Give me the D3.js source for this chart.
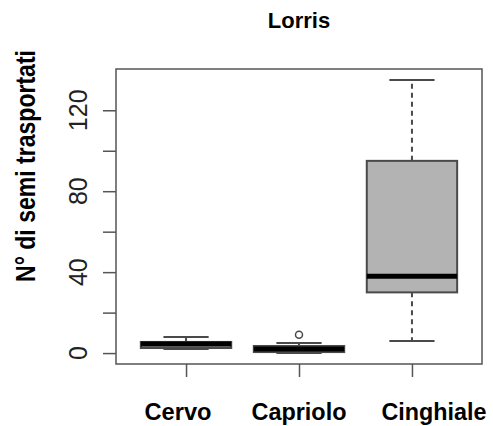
<!DOCTYPE html>
<html>
<head>
<meta charset="utf-8">
<script src="https://cdn.jsdelivr.net/npm/d3@7"></script>
<style>
  html, body { margin: 0; padding: 0; background: #fff; }
  svg { display: block; }
  text { font-family: "Liberation Sans", Arial, sans-serif; }
</style>
</head>
<body>
<svg id="chart" width="493" height="426"></svg>
<script>
// ---- data ----
const categories = ["Cervo", "Capriolo", "Cinghiale"];
const mins    = [2, 0, 6];
const q1s     = [2.5, 0.5, 30];
const medians = [4.5, 2, 38];
const q3s     = [5.5, 3.5, 95];
const maxs    = [8, 5, 135];
const outliers = [[], [9], []];
const yTicks = [0, 20, 40, 60, 80, 100, 120];
const yTickLabels = ["0", "", "40", "", "80", "", "120"];
const title = "Lorris";
const yLabel = "N° di semi trasportati";

// ---- layout ----
const svg = d3.select("#chart");
const plot = { left: 116, right: 482, top: 69, bottom: 364 };
const x = d3.scaleLinear().domain([0.38, 3.62]).range([plot.left, plot.right]);
const y = d3.scaleLinear().domain([-5.4, 140.4]).range([plot.bottom, plot.top]);
const boxW = x(0.8) - x(0);
const capW = boxW / 2;
const lineCol = "#4a4a4a";
const axisCol = "#555";

const boxes = categories.map((c, i) => ({
  cat: c, pos: i + 1, min: mins[i], q1: q1s[i], med: medians[i], q3: q3s[i], max: maxs[i], out: outliers[i]
}));

const g = svg.append("g");

boxes.forEach(b => {
  g.append("line").attr("x1", x(b.pos)).attr("x2", x(b.pos))
    .attr("y1", y(b.q3)).attr("y2", y(b.max))
    .attr("stroke", lineCol).attr("stroke-width", 2).attr("stroke-dasharray", "5,4");
  g.append("line").attr("x1", x(b.pos)).attr("x2", x(b.pos))
    .attr("y1", y(b.q1)).attr("y2", y(b.min))
    .attr("stroke", lineCol).attr("stroke-width", 2).attr("stroke-dasharray", "5,4");
  [b.max, b.min].forEach(v => {
    g.append("line").attr("x1", x(b.pos) - capW / 2).attr("x2", x(b.pos) + capW / 2)
      .attr("y1", y(v)).attr("y2", y(v))
      .attr("stroke", lineCol).attr("stroke-width", 2);
  });
  g.append("rect").attr("x", x(b.pos) - boxW / 2).attr("width", boxW)
    .attr("y", y(b.q3)).attr("height", Math.max(0, y(b.q1) - y(b.q3)))
    .attr("fill", "#b3b3b3").attr("stroke", lineCol).attr("stroke-width", 2);
  g.append("line").attr("x1", x(b.pos) - boxW / 2).attr("x2", x(b.pos) + boxW / 2)
    .attr("y1", y(b.med)).attr("y2", y(b.med))
    .attr("stroke", "#000").attr("stroke-width", 5);
  b.out.forEach(o => {
    g.append("circle").attr("cx", x(b.pos)).attr("cy", y(o)).attr("r", 3.5)
      .attr("fill", "none").attr("stroke", lineCol).attr("stroke-width", 1.5);
  });
});

// frame
svg.append("rect").attr("x", plot.left).attr("y", plot.top)
  .attr("width", plot.right - plot.left).attr("height", plot.bottom - plot.top)
  .attr("fill", "none").attr("stroke", axisCol).attr("stroke-width", 1.5);

// y axis
const yAxis = d3.axisLeft(y).tickValues(yTicks).tickSize(13).tickPadding(0)
  .tickFormat(() => "");
const yg = svg.append("g").attr("transform", `translate(${plot.left},0)`).call(yAxis);
yg.select(".domain").remove();
yg.selectAll(".tick line").attr("stroke", axisCol).attr("stroke-width", 1.5);
yTicks.forEach((v, i) => {
  if (!yTickLabels[i]) return;
  svg.append("text")
    .attr("transform", `translate(87,${y(v)}) rotate(-90)`)
    .attr("text-anchor", "middle")
    .attr("font-size", 25).attr("fill", "#222")
    .text(yTickLabels[i]);
});

// x axis ticks
const xAxis = d3.axisBottom(x).tickValues(boxes.map(b => b.pos)).tickSize(13).tickFormat(() => "");
const xg = svg.append("g").attr("transform", `translate(0,${plot.bottom})`).call(xAxis);
xg.select(".domain").remove();
xg.selectAll(".tick line").attr("stroke", axisCol).attr("stroke-width", 1.5);

// category labels
const labelDx = [-8, 0, 22];
const labelLen = [67, 95, 105];
categories.forEach((c, i) => {
  svg.append("text")
    .attr("x", x(i + 1) + labelDx[i]).attr("y", 420)
    .attr("text-anchor", "middle")
    .attr("font-size", 24).attr("font-weight", "bold").attr("fill", "#000")
    .attr("textLength", labelLen[i]).attr("lengthAdjust", "spacingAndGlyphs")
    .text(c);
});

// title
svg.append("text").attr("x", (plot.left + plot.right) / 2).attr("y", 28)
  .attr("text-anchor", "middle").attr("font-size", 22).attr("font-weight", "bold")
  .text(title);

// y label
svg.append("text")
  .attr("transform", `translate(35,166) rotate(-90)`)
  .attr("text-anchor", "middle")
  .attr("font-size", 28).attr("font-weight", "bold")
  .attr("textLength", 232).attr("lengthAdjust", "spacingAndGlyphs")
  .text(yLabel);
</script>
</body>
</html>
